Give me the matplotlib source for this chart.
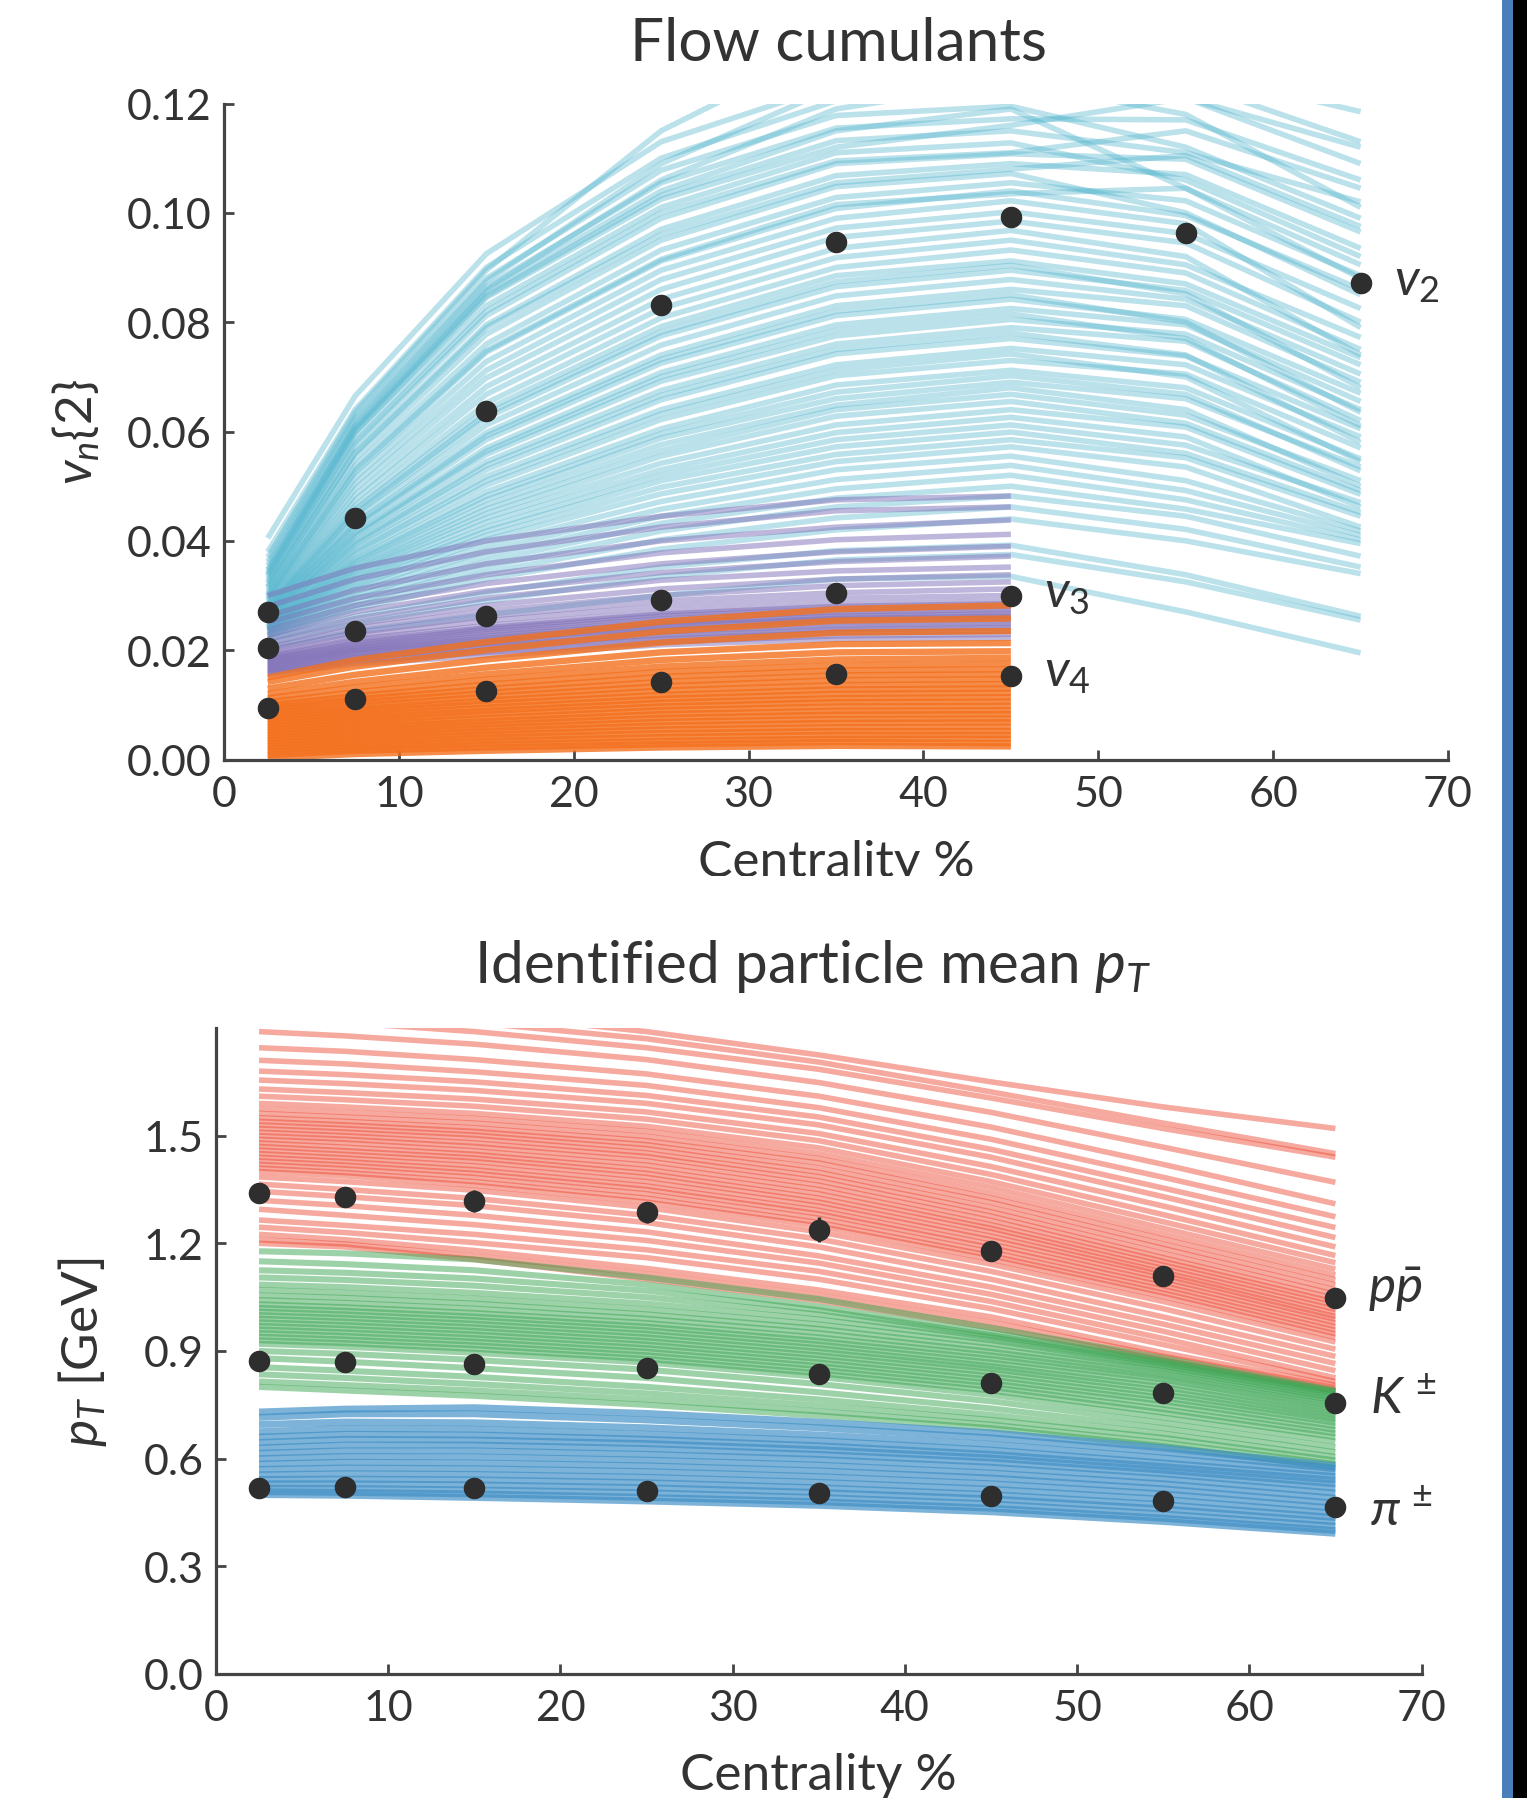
import matplotlib
matplotlib.use('Agg')
import matplotlib.pyplot as plt
from matplotlib.patches import Rectangle

plt.rcParams['font.family'] = ['Lato', 'DejaVu Sans']
plt.rcParams['mathtext.fontset'] = 'custom'
plt.rcParams['mathtext.rm'] = 'Lato'
plt.rcParams['mathtext.it'] = 'Lato:italic'
plt.rcParams['mathtext.bf'] = 'Lato:bold'

cent = [2.5, 7.5, 15, 25, 35, 45, 55, 65]
cent_short = [2.5, 7.5, 15, 25, 35, 45]

# experimental points
v2_data = [.0269, .0441, .0638, .0831, .0946, .0992, .0963, .0871]
v3_data = [.0204, .0235, .0262, .0292, .0304, .0300]
v4_data = [.0094, .0111, .0126, .0141, .0157, .0153]
proton_data = [1.340, 1.330, 1.318, 1.286, 1.238, 1.178, 1.110, 1.047]
proton_err = [.02, .02, .03, .03, .035, .02, .015, .012]
kaon_data = [.871, .868, .865, .852, .836, .811, .782, .756]
kaon_err = [.012, .012, .012, .012, .012, .012, .012, .012]
pion_data = [.517, .520, .517, .511, .504, .495, .482, .466]
pion_err = [.005, .005, .005, .005, .005, .005, .005, .005]

# model curves, estimated by eye
v2_curves = [
    [.0205, .0235, .0265, .0300, .0330, .0335, .0270, .0195],
    [.0215, .0250, .0290, .0335, .0365, .0375, .0325, .0255],
    [.0220, .0262, .0305, .0352, .0382, .0392, .0338, .0262],
    [.0225, .0275, .0330, .0385, .0420, .0440, .0400, .0340],
    [.0226, .0281, .0342, .0402, .0442, .0462, .0421, .0352],
    [.0228, .0288, .0352, .0418, .0462, .0482, .0445, .0372],
    [.0230, .0294, .0362, .0432, .0478, .0500, .0458, .0395],
    [.0232, .0300, .0372, .0445, .0495, .0520, .0475, .0402],
    [.0234, .0306, .0382, .0458, .0512, .0538, .0492, .0410],
    [.0235, .0312, .0392, .0472, .0530, .0555, .0510, .0418],
    [.0236, .0317, .0402, .0486, .0545, .0572, .0535, .0425],
    [.0238, .0322, .0410, .0498, .0558, .0585, .0552, .0445],
    [.0239, .0328, .0418, .0510, .0572, .0599, .0560, .0452],
    [.0240, .0332, .0425, .0520, .0585, .0612, .0575, .0470],
    [.0241, .0337, .0434, .0530, .0598, .0626, .0590, .0462],
    [.0242, .0342, .0442, .0542, .0612, .0640, .0608, .0485],
    [.0243, .0346, .0450, .0555, .0628, .0655, .0615, .0492],
    [.0245, .0350, .0458, .0565, .0640, .0668, .0630, .0510],
    [.0246, .0355, .0466, .0576, .0648, .0680, .0640, .0500],
    [.0248, .0360, .0475, .0588, .0660, .0690, .0660, .0535],
    [.0249, .0364, .0482, .0596, .0672, .0702, .0668, .0528],
    [.0250, .0368, .0490, .0605, .0685, .0712, .0680, .0550],
    [.0252, .0375, .0502, .0622, .0702, .0730, .0705, .0570],
    [.0253, .0380, .0510, .0632, .0712, .0742, .0700, .0545],
    [.0255, .0385, .0518, .0640, .0722, .0752, .0722, .0590],
    [.0258, .0392, .0530, .0658, .0742, .0770, .0738, .0605],
    [.0259, .0396, .0538, .0666, .0750, .0780, .0740, .0580],
    [.0260, .0400, .0545, .0675, .0760, .0790, .0765, .0620],
    [.0262, .0408, .0558, .0692, .0775, .0805, .0778, .0640],
    [.0263, .0412, .0564, .0700, .0785, .0815, .0770, .0610],
    [.0265, .0415, .0570, .0708, .0795, .0825, .0795, .0655],
    [.0268, .0424, .0585, .0725, .0812, .0842, .0805, .0670],
    [.0269, .0428, .0592, .0732, .0820, .0850, .0800, .0635],
    [.0270, .0432, .0598, .0740, .0830, .0860, .0830, .0690],
    [.0272, .0440, .0612, .0758, .0848, .0878, .0842, .0705],
    [.0275, .0448, .0625, .0775, .0865, .0895, .0858, .0722],
    [.0276, .0452, .0632, .0782, .0874, .0904, .0852, .0680],
    [.0278, .0458, .0640, .0792, .0885, .0912, .0870, .0735],
    [.0280, .0465, .0652, .0808, .0900, .0932, .0890, .0750],
    [.0283, .0475, .0668, .0825, .0918, .0950, .0905, .0772],
    [.0286, .0484, .0682, .0842, .0935, .0968, .0920, .0740],
    [.0290, .0495, .0698, .0860, .0955, .0985, .0945, .0800],
    [.0293, .0505, .0712, .0878, .0972, .1002, .0962, .0825],
    [.0296, .0515, .0728, .0895, .0990, .1022, .0980, .0790],
    [.0300, .0525, .0745, .0912, .1008, .1040, .0995, .0860],
    [.0300, .0530, .0748, .0915, .1015, .1035, .1045, .0905],
    [.0305, .0538, .0760, .0932, .1028, .1055, .1022, .0885],
    [.0310, .0550, .0778, .0950, .1048, .1072, .1000, .0850],
    [.0315, .0560, .0790, .0960, .1055, .1080, .1105, .0975],
    [.0316, .0562, .0795, .0970, .1068, .1090, .1070, .0935],
    [.0322, .0575, .0812, .0990, .1090, .1108, .1098, .0965],
    [.0325, .0580, .0820, .1000, .1095, .1110, .1150, .1045],
    [.0330, .0590, .0830, .1010, .1110, .1128, .1060, .0920],
    [.0335, .0598, .0845, .1025, .1120, .1160, .1210, .1090],
    [.0338, .0602, .0848, .1032, .1132, .1150, .1110, .1020],
    [.0340, .0605, .0855, .1040, .1150, .1190, .1045, .0880],
    [.0345, .0608, .0860, .1060, .1190, .1240, .1180, .1010],
    [.0348, .0612, .0865, .1055, .1155, .1172, .1170, .1060],
    [.0355, .0620, .0875, .1090, .1230, .1300, .1210, .1120],
    [.0362, .0625, .0880, .1078, .1178, .1195, .1120, .0990],
    [.0370, .0635, .0895, .1150, .1310, .1380, .1300, .1250],
    [.0380, .0640, .0900, .1100, .1205, .1220, .1240, .1130],
    [.0405, .0665, .0925, .1130, .1235, .1260, .1260, .1185],
]
v3_curves = [
    [.0155, .0175, .0190, .0210, .0220, .0222],
    [.0158, .0179, .0196, .0215, .0226, .0229],
    [.0160, .0182, .0200, .0220, .0232, .0235],
    [.0163, .0186, .0205, .0225, .0237, .0241],
    [.0165, .0188, .0208, .0228, .0240, .0245],
    [.0168, .0192, .0212, .0234, .0246, .0250],
    [.0170, .0195, .0215, .0238, .0250, .0255],
    [.0173, .0198, .0219, .0242, .0255, .0259],
    [.0175, .0200, .0222, .0245, .0258, .0262],
    [.0178, .0203, .0226, .0249, .0262, .0266],
    [.0180, .0206, .0230, .0252, .0265, .0270],
    [.0183, .0209, .0234, .0257, .0270, .0275],
    [.0185, .0212, .0238, .0262, .0275, .0280],
    [.0188, .0216, .0241, .0266, .0280, .0285],
    [.0190, .0220, .0245, .0270, .0285, .0290],
    [.0195, .0226, .0254, .0280, .0295, .0300],
    [.0200, .0232, .0262, .0290, .0305, .0312],
    [.0205, .0240, .0272, .0300, .0318, .0325],
    [.0212, .0248, .0282, .0312, .0330, .0338],
    [.0220, .0258, .0295, .0328, .0345, .0352],
    [.0228, .0270, .0308, .0342, .0362, .0372],
    [.0238, .0282, .0322, .0358, .0380, .0390],
    [.0250, .0295, .0338, .0378, .0402, .0412],
    [.0262, .0310, .0358, .0400, .0425, .0438],
    [.0280, .0330, .0380, .0425, .0455, .0462],
    [.0300, .0350, .0400, .0445, .0475, .0482],
]
v4_curves = [
    [.0003, .0010, .0016, .0022, .0025, .0024],
    [.0008, .0016, .0022, .0028, .0032, .0030],
    [.0014, .0021, .0028, .0034, .0038, .0038],
    [.0019, .0026, .0034, .0041, .0045, .0045],
    [.0024, .0032, .0040, .0048, .0052, .0052],
    [.0029, .0037, .0046, .0055, .0059, .0060],
    [.0034, .0043, .0052, .0062, .0067, .0068],
    [.0039, .0048, .0058, .0069, .0074, .0075],
    [.0044, .0054, .0064, .0076, .0082, .0083],
    [.0049, .0059, .0070, .0083, .0089, .0090],
    [.0054, .0065, .0076, .0090, .0097, .0098],
    [.0059, .0070, .0083, .0097, .0105, .0106],
    [.0064, .0076, .0089, .0104, .0112, .0114],
    [.0069, .0081, .0095, .0111, .0120, .0122],
    [.0074, .0087, .0102, .0118, .0128, .0130],
    [.0079, .0092, .0108, .0126, .0136, .0138],
    [.0084, .0098, .0115, .0134, .0145, .0147],
    [.0089, .0104, .0122, .0142, .0154, .0156],
    [.0094, .0110, .0129, .0151, .0163, .0165],
    [.0099, .0116, .0137, .0160, .0172, .0175],
    [.0105, .0123, .0146, .0170, .0183, .0186],
    [.0112, .0132, .0156, .0182, .0196, .0198],
    [.0120, .0142, .0168, .0196, .0211, .0213],
    [.0130, .0155, .0183, .0214, .0232, .0235],
    [.0142, .0170, .0200, .0234, .0254, .0258],
    [.0150, .0182, .0215, .0252, .0275, .0282],
]
proton_curves = [
    [1.200, 1.190, 1.155, 1.100, 1.040, .965, .875, .790],
    [1.210, 1.198, 1.165, 1.115, 1.055, .980, .885, .798],
    [1.225, 1.210, 1.180, 1.130, 1.070, .995, .895, .805],
    [1.245, 1.230, 1.202, 1.160, 1.100, 1.018, .918, .815],
    [1.265, 1.250, 1.225, 1.182, 1.122, 1.038, .935, .825],
    [1.295, 1.278, 1.252, 1.208, 1.145, 1.058, .955, .845],
    [1.320, 1.305, 1.278, 1.232, 1.165, 1.078, .975, .865],
    [1.345, 1.330, 1.305, 1.258, 1.190, 1.100, .995, .885],
    [1.365, 1.350, 1.325, 1.278, 1.212, 1.122, 1.018, .905],
    [1.385, 1.372, 1.348, 1.300, 1.232, 1.142, 1.038, .925],
    [1.400, 1.388, 1.362, 1.315, 1.248, 1.156, 1.052, .938],
    [1.410, 1.397, 1.372, 1.326, 1.258, 1.166, 1.062, .948],
    [1.420, 1.408, 1.384, 1.338, 1.270, 1.176, 1.072, .958],
    [1.430, 1.418, 1.395, 1.350, 1.282, 1.188, 1.082, .968],
    [1.440, 1.428, 1.405, 1.360, 1.292, 1.198, 1.092, .978],
    [1.450, 1.438, 1.416, 1.372, 1.304, 1.210, 1.102, .988],
    [1.460, 1.448, 1.428, 1.384, 1.315, 1.220, 1.112, .996],
    [1.470, 1.458, 1.438, 1.395, 1.326, 1.232, 1.120, 1.006],
    [1.480, 1.468, 1.448, 1.406, 1.338, 1.242, 1.130, 1.016],
    [1.490, 1.480, 1.458, 1.418, 1.350, 1.252, 1.140, 1.026],
    [1.500, 1.490, 1.470, 1.430, 1.362, 1.264, 1.150, 1.036],
    [1.510, 1.500, 1.480, 1.442, 1.374, 1.276, 1.160, 1.046],
    [1.520, 1.510, 1.492, 1.452, 1.386, 1.288, 1.172, 1.058],
    [1.530, 1.520, 1.502, 1.464, 1.398, 1.300, 1.186, 1.070],
    [1.540, 1.530, 1.512, 1.475, 1.410, 1.314, 1.198, 1.084],
    [1.550, 1.540, 1.522, 1.486, 1.424, 1.326, 1.212, 1.098],
    [1.562, 1.552, 1.535, 1.498, 1.436, 1.340, 1.226, 1.112],
    [1.575, 1.565, 1.548, 1.512, 1.450, 1.356, 1.242, 1.128],
    [1.590, 1.580, 1.562, 1.526, 1.466, 1.372, 1.260, 1.146],
    [1.610, 1.600, 1.582, 1.546, 1.486, 1.392, 1.280, 1.166],
    [1.630, 1.620, 1.602, 1.566, 1.506, 1.414, 1.304, 1.190],
    [1.655, 1.645, 1.626, 1.590, 1.530, 1.440, 1.330, 1.216],
    [1.680, 1.670, 1.650, 1.612, 1.552, 1.462, 1.354, 1.244],
    [1.710, 1.700, 1.678, 1.640, 1.578, 1.490, 1.384, 1.274],
    [1.745, 1.735, 1.712, 1.672, 1.610, 1.524, 1.420, 1.310],
    [1.790, 1.778, 1.755, 1.712, 1.648, 1.565, 1.468, 1.370],
    [1.825, 1.815, 1.790, 1.745, 1.685, 1.605, 1.520, 1.440],
    [1.850, 1.840, 1.815, 1.770, 1.705, 1.622, 1.535, 1.450],
    [1.880, 1.870, 1.840, 1.790, 1.725, 1.650, 1.580, 1.520],
]
kaon_curves = [
    [.800, .790, .775, .750, .720, .685, .635, .575],
    [.815, .805, .790, .765, .732, .695, .645, .585],
    [.835, .825, .808, .782, .748, .708, .658, .595],
    [.855, .845, .828, .800, .765, .722, .670, .605],
    [.880, .870, .852, .825, .785, .740, .685, .618],
    [.900, .892, .875, .848, .808, .760, .700, .632],
    [.920, .912, .895, .868, .828, .778, .715, .648],
    [.930, .922, .906, .878, .838, .790, .728, .660],
    [.940, .932, .916, .888, .848, .800, .738, .670],
    [.950, .942, .926, .898, .858, .810, .750, .680],
    [.960, .952, .936, .908, .868, .820, .760, .690],
    [.970, .962, .946, .918, .878, .830, .770, .700],
    [.980, .972, .956, .928, .888, .840, .780, .708],
    [.990, .982, .966, .938, .898, .850, .790, .716],
    [1.000, .992, .976, .948, .908, .858, .800, .724],
    [1.010, 1.002, .986, .958, .918, .868, .810, .732],
    [1.020, 1.012, .996, .968, .928, .878, .820, .740],
    [1.030, 1.022, 1.006, .978, .938, .888, .828, .748],
    [1.042, 1.034, 1.018, .990, .950, .898, .836, .756],
    [1.055, 1.048, 1.032, 1.002, .962, .908, .845, .762],
    [1.070, 1.062, 1.046, 1.016, .974, .920, .852, .768],
    [1.085, 1.078, 1.062, 1.032, .988, .930, .858, .774],
    [1.105, 1.098, 1.082, 1.050, 1.002, .938, .864, .780],
    [1.125, 1.118, 1.102, 1.068, 1.014, .944, .868, .784],
    [1.150, 1.142, 1.125, 1.085, 1.024, .950, .872, .788],
    [1.178, 1.172, 1.155, 1.105, 1.045, .965, .880, .790],
]
pion_curves = [
    [.500, .498, .492, .482, .470, .452, .425, .392],
    [.508, .506, .502, .492, .480, .462, .434, .400],
    [.518, .517, .513, .505, .492, .474, .446, .412],
    [.530, .530, .527, .519, .506, .488, .460, .424],
    [.542, .543, .541, .533, .519, .500, .472, .436],
    [.555, .558, .556, .548, .534, .515, .487, .448],
    [.570, .574, .572, .564, .550, .530, .502, .462],
    [.585, .590, .588, .580, .566, .546, .516, .476],
    [.600, .606, .605, .596, .582, .560, .530, .490],
    [.615, .622, .622, .612, .598, .576, .544, .504],
    [.630, .638, .638, .628, .612, .590, .558, .518],
    [.645, .654, .652, .642, .625, .602, .568, .530],
    [.660, .668, .666, .654, .636, .612, .578, .540],
    [.675, .684, .682, .668, .650, .624, .588, .550],
    [.695, .702, .700, .686, .666, .640, .602, .562],
    [.715, .725, .725, .708, .686, .658, .618, .572],
    [.730, .738, .742, .726, .702, .672, .630, .580],
]

W, H = 1527, 1799
DPI = 100


def add_axes_px(x0, x1, y_top, y_bottom):
    return fig.add_axes([x0 / W, 1 - y_bottom / H, (x1 - x0) / W, (y_bottom - y_top) / H])


def style_axes(ax):
    for side in ['top', 'right']:
        ax.spines[side].set_visible(False)
    for side in ['left', 'bottom']:
        ax.spines[side].set_linewidth(2.3)
        ax.spines[side].set_color('#444444')
    ax.tick_params(direction='in', length=7, width=2.0, color='#444444',
                   labelcolor='#333333', labelsize=31, pad=11)
    ax.tick_params(axis='y', pad=9)
    ax.xaxis.label.set_color('#333333')
    ax.yaxis.label.set_color('#333333')


def draw_curves(ax, x, curves, color, alpha, lw):
    for row in curves:
        ax.plot(x, row, color=color, alpha=alpha, lw=lw, solid_capstyle='butt', zorder=2)


fig = plt.figure(figsize=(W / DPI, H / DPI), dpi=DPI)

# top panel
ax1 = add_axes_px(224, 1448, 104.5, 760.5)
draw_curves(ax1, cent, v2_curves, '#55b6cf', 0.40, 4.0)
draw_curves(ax1, cent_short, v3_curves, '#8070b8', 0.50, 4.0)
draw_curves(ax1, cent_short, v4_curves, '#f3701c', 0.80, 4.6)
for vals, xs in [(v2_data, cent), (v3_data, cent_short), (v4_data, cent_short)]:
    ax1.plot(xs, vals, 'o', color='#2e2e2e', ms=14.5, zorder=5, clip_on=False)
ax1.set_xlim(0, 70)
ax1.set_ylim(0, 0.12)
ax1.set_xticks([0, 10, 20, 30, 40, 50, 60, 70])
ax1.set_yticks([0, .02, .04, .06, .08, .10, .12])
ax1.set_yticklabels(['0.00', '0.02', '0.04', '0.06', '0.08', '0.10', '0.12'])
ax1.set_xlabel('Centrality %', fontsize=37, labelpad=19)
ax1.set_ylabel(r'$v_n\{2\}$', fontsize=37, labelpad=18)
ax1.set_title('Flow cumulants', fontsize=43.5, color='#333333', pad=31, x=0.502)
style_axes(ax1)
ax1.text(66.9, .0875, r'$v_2$', fontsize=37, color='#333333', va='center')
ax1.text(46.9, .0305, r'$v_3$', fontsize=37, color='#333333', va='center')
ax1.text(46.9, .0160, r'$v_4$', fontsize=37, color='#333333', va='center')

# bottom panel
ax2 = add_axes_px(216, 1421.5, 1029, 1675)
draw_curves(ax2, cent, proton_curves, '#ee4b36', 0.48, 4.0)
draw_curves(ax2, cent, kaon_curves, '#3da654', 0.50, 4.4)
draw_curves(ax2, cent, pion_curves, '#3f8fc6', 0.68, 5.0)
for vals, errs in [(proton_data, proton_err), (kaon_data, kaon_err), (pion_data, pion_err)]:
    ax2.errorbar(cent, vals, yerr=errs, fmt='o', color='#2e2e2e', ms=14.5, elinewidth=2.5,
                 zorder=5, clip_on=False)
ax2.set_xlim(0, 70)
ax2.set_ylim(0, 1.8)
ax2.set_xticks([0, 10, 20, 30, 40, 50, 60, 70])
ax2.set_yticks([0, .3, .6, .9, 1.2, 1.5])
ax2.set_yticklabels(['0.0', '0.3', '0.6', '0.9', '1.2', '1.5'])
ax2.set_xlabel('Centrality %', fontsize=37, labelpad=18)
ax2.set_ylabel(r'$p_T$ [GeV]', fontsize=37, labelpad=25)
ax2.set_title(r'Identified particle mean $p_T$', fontsize=42, color='#333333', pad=33, x=0.495)
style_axes(ax2)
ax2.text(66.9, 1.075, r'$p\bar{p}$', fontsize=37, color='#333333', va='center')
ax2.text(67.0, .765, r'$K^{\,\pm}$', fontsize=37, color='#333333', va='center')
ax2.text(67.0, .455, r'$\pi^{\,\pm}$', fontsize=37, color='#333333', va='center')

# page furniture: cropped label under the top panel and the strip on the right edge
fig.add_artist(Rectangle((0, 1 - 920 / H), 1, 43 / H, transform=fig.transFigure,
                         facecolor='white', edgecolor='none', zorder=5))
fig.add_artist(Rectangle((1502 / W, 0), 11 / W, 1, transform=fig.transFigure,
                         facecolor='#4a7ebb', edgecolor='none', zorder=5))
fig.add_artist(Rectangle((1513 / W, 0), 14 / W, 1, transform=fig.transFigure,
                         facecolor='black', edgecolor='none', zorder=5))

fig.savefig('out.png', dpi=DPI)
